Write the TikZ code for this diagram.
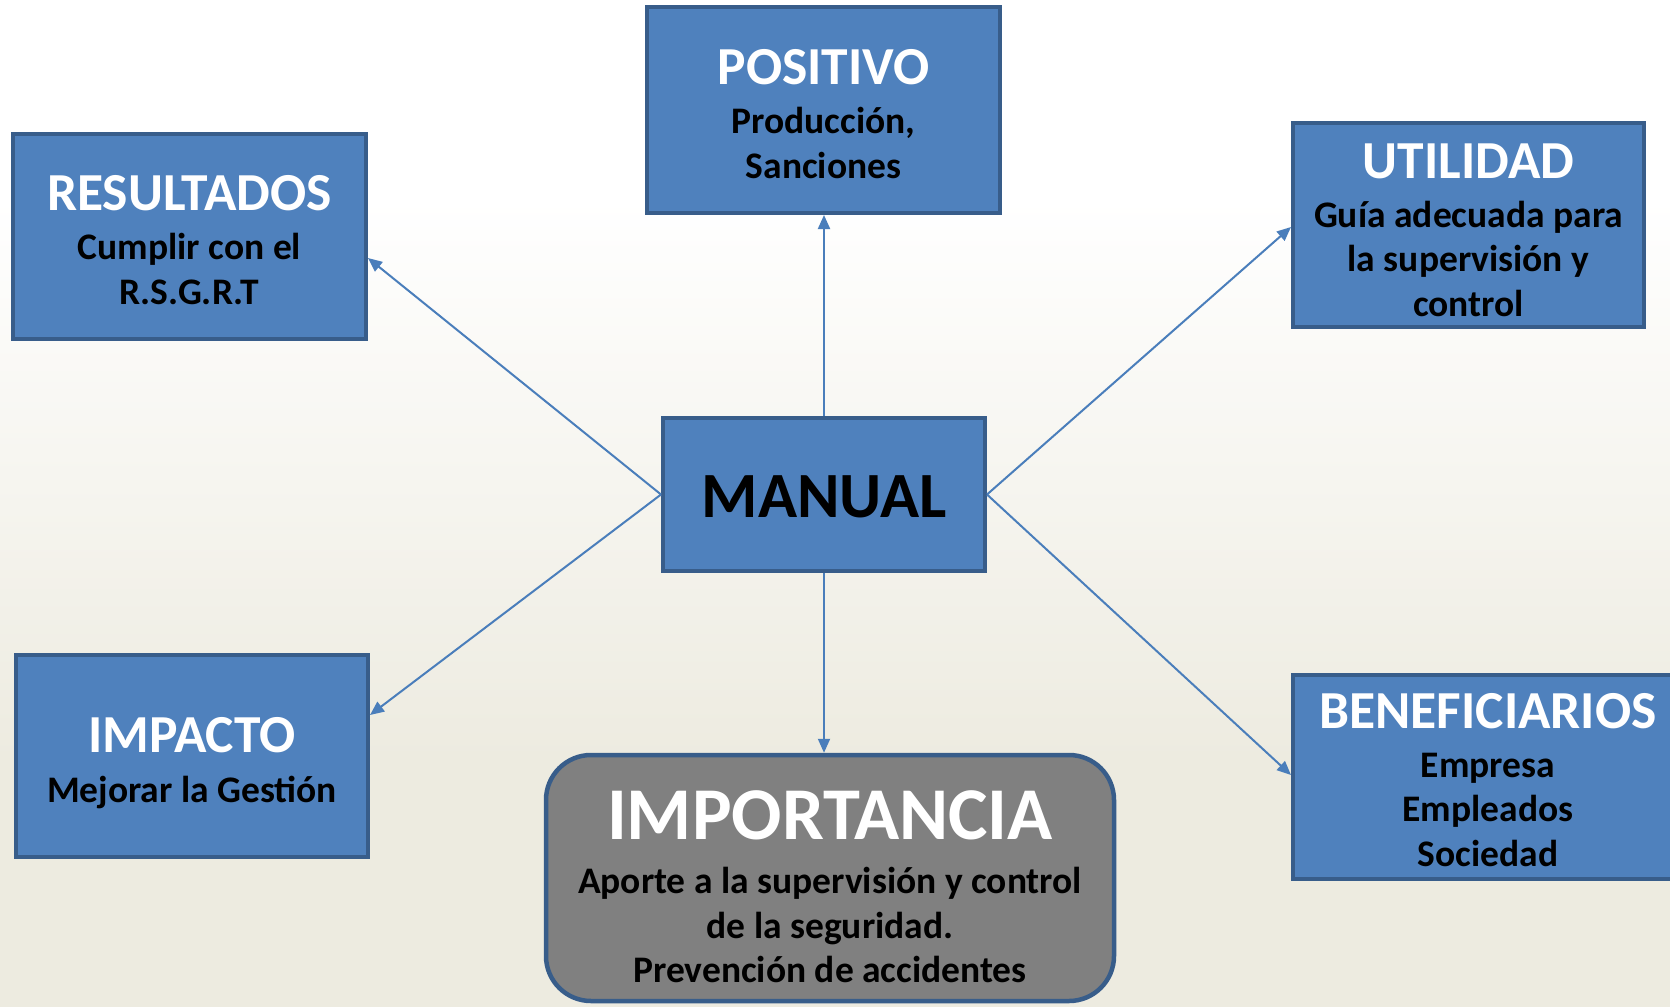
\documentclass[tikz,border=0pt]{standalone}
\usepackage{fontspec}
\setmainfont{Carlito}
\usetikzlibrary{arrows.meta}
\definecolor{boxfill}{RGB}{79,129,189}
\definecolor{boxline}{RGB}{56,93,138}
\definecolor{grayfill}{RGB}{128,128,128}
\definecolor{arrowc}{RGB}{74,126,187}
\definecolor{bgbeige}{RGB}{237,235,224}
\tikzset{
  bluebox/.style={rectangle, draw=boxline, line width=4pt, fill=boxfill, inner sep=0pt},
  graybox/.style={rectangle, rounded corners=45pt, draw=boxline, line width=4.5pt, fill=grayfill, inner sep=0pt},
  boxtext/.style={inner sep=0pt, align=center, font=\bfseries\fontsize{37.5}{44.5}\selectfont, text=black},
  conn/.style={draw=arrowc, line width=2pt, -{Triangle[length=14pt,width=12pt]}},
}
\newcommand{\ttl}[1]{{\color{white}\fontsize{53.5}{60}\selectfont #1}}
\begin{document}
\begin{tikzpicture}[x=1pt,y=-1pt]
\useasboundingbox (0,0) rectangle (1670,1007);
\fill[white] (0,0) rectangle (1670,200);
\shade[top color=white, bottom color=bgbeige] (0,199) rectangle (1670,760);
\fill[bgbeige] (0,759) rectangle (1670,1007);

\node[bluebox, minimum width=353pt, minimum height=206pt] (pos) at (823.5,110) {};
\node[boxtext] (postxt) at ([yshift=-4pt]pos.center)
  {\ttl{POSITIVO}\\[4.5pt] Producción,\\ Sanciones};

\node[bluebox, minimum width=353pt, minimum height=205pt] (res) at (189.5,236) {};
\node[boxtext] (restxt) at ([yshift=-4pt]res.center)
  {\ttl{RESULTADOS}\\[4.5pt] Cumplir con el\\ R.S.G.R.T};

\node[bluebox, minimum width=351pt, minimum height=204pt] (util) at (1468.5,225) {};
\node[boxtext] (utiltxt) at ([yshift=-5pt]util.center)
  {\ttl{UTILIDAD}\\[4.5pt] Guía adecuada para\\ la supervisión y\\ control};

\node[bluebox, minimum width=352pt, minimum height=202pt] (imp) at (192,756) {};
\node[boxtext] (imptxt) at ([yshift=-7pt]imp.center)
  {\ttl{IMPACTO}\\[5.5pt] Mejorar la Gestión};

\node[bluebox, minimum width=390pt, minimum height=204pt] (ben) at (1488,777) {};
\node[boxtext] (bentxt) at ([yshift=-3pt]ben.center)
  {\ttl{BENEFICIARIOS}\\[4.5pt] Empresa\\ Empleados\\ Sociedad};

\node[bluebox, minimum width=322pt, minimum height=153pt] (man) at (824,494.5) {};
\node[boxtext, font=\bfseries\fontsize{64.5}{70}\selectfont] (mantxt) at ([yshift=-2pt]man.center) {MANUAL};

\node[graybox, minimum width=568pt, minimum height=246pt] (impo) at (830,878) {};
\node[boxtext] (impotxt) at ([yshift=-8.5pt]impo.center)
  {{\color{white}\fontsize{74.5}{80}\selectfont IMPORTANCIA}\\[10pt] Aporte a la supervisión y control\\ de la seguridad.\\ Prevención de accidentes};

\draw[conn] (man.north) -- (man.north |- pos.south);
\draw[conn] (man.south) -- (man.south |- impo.north);
\draw[conn] (man.west) -- ([yshift=-22pt]res.east);
\draw[conn] (man.west) -- ([yshift=41pt]imp.east);
\draw[conn] (man.east) -- ([yshift=-2pt]util.west);
\draw[conn] (man.east) -- ([yshift=2pt]ben.west);
\end{tikzpicture}
\end{document}
